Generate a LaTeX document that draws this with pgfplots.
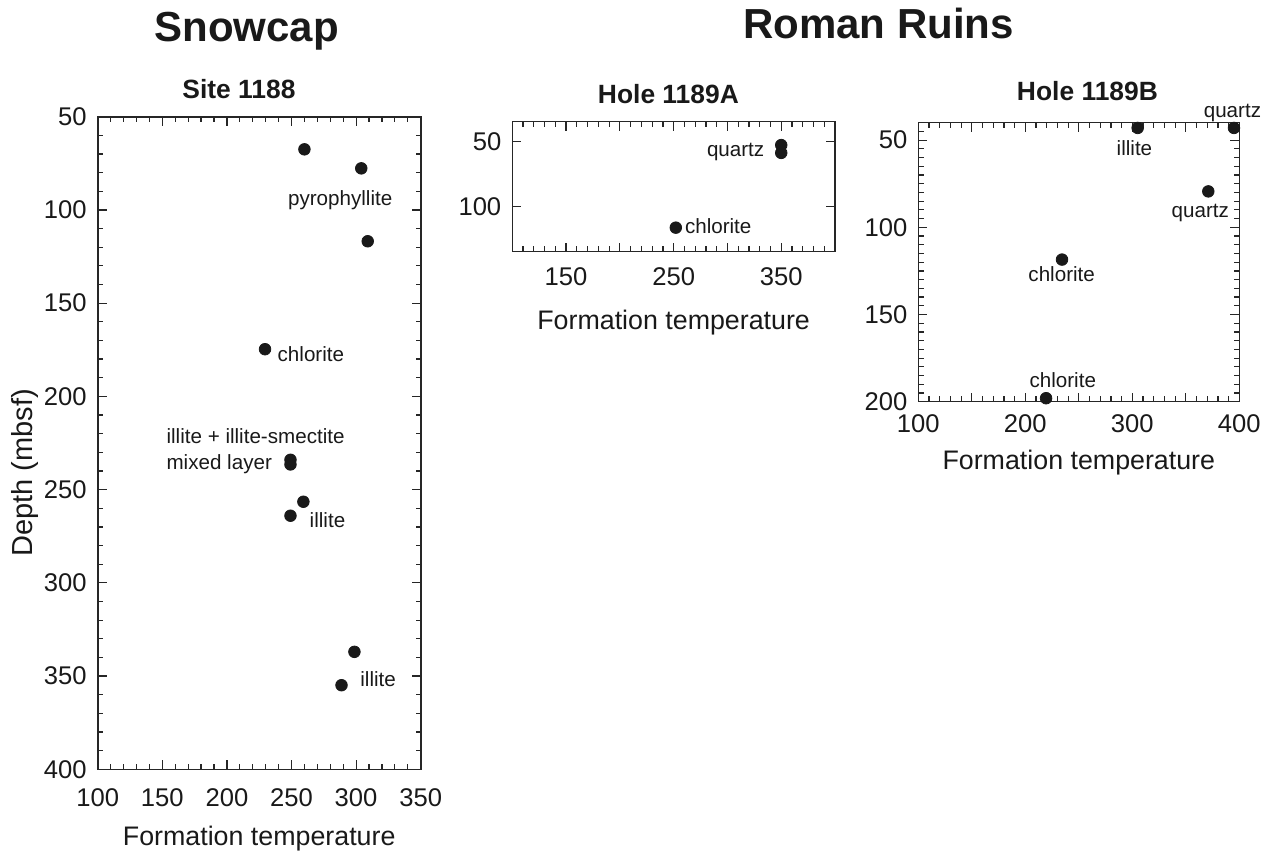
\documentclass[border=0pt]{standalone}
\usepackage{pgfplots}
\pgfplotsset{compat=1.18}
\usepackage{fontspec}
\setmainfont{Liberation Sans}

\pgfplotstableread{
x y
260 67.5
304 77.7
309 116.8
229.5 174.7
249.2 234
249.2 236.5
259.2 256.5
249.2 264
298.7 337
288.7 354.9
}\siteA

\pgfplotstableread{
x y
350 53
350 59
252 116.5
}\holeA

\pgfplotstableread{
x y
305 43
395 43
371 79.4
234.3 118.5
219.4 198
}\holeB

\tikzset{lbl/.style={font=\fontsize{10.3}{12}\selectfont, text=black!90, inner sep=0pt, text height=1.6ex, text depth=0.3ex}}

\pgfplotsset{
  myaxis/.style={
    scale only axis,
    y dir=reverse,
    axis line style={line width=0.8pt, black!85},
    tick align=inside,
    tick pos=both,
    major tick length=4.5pt,
    minor tick length=2.6pt,
    every tick/.style={black!85, line width=0.6pt},
    /pgf/number format/assume math mode=true,
    ticklabel style={font=\fontsize{12.8}{15}\selectfont, text=black!90},
    yticklabel style={xshift=-2pt},
    xlabel style={font=\fontsize{13.4}{15}\selectfont, text=black!90},
    ylabel style={font=\fontsize{14.5}{16}\selectfont, text=black!90},
    clip=false,
  },
  dots/.style={only marks, mark=*, mark size=2.9pt, mark options={fill=black!90, draw=black!90}},
}

\begin{document}
\begin{tikzpicture}
\path[use as bounding box] (0,0) rectangle (638.5pt,-427pt);

% titles
\node[anchor=base, font=\bfseries\fontsize{21}{24}\selectfont, text=black!90] at (123.4pt,-20.8pt) {Snowcap};
\node[anchor=base, font=\bfseries\fontsize{21}{24}\selectfont, text=black!90] at (439.2pt,-19.2pt) {Roman Ruins};
\node[anchor=base, font=\bfseries\fontsize{13.2}{15}\selectfont, text=black!90] at (119.5pt,-49.2pt) {Site 1188};
\node[anchor=base, font=\bfseries\fontsize{13.2}{15}\selectfont, text=black!90] at (334.2pt,-51.7pt) {Hole 1189A};
\node[anchor=base, font=\bfseries\fontsize{13.2}{15}\selectfont, text=black!90] at (543.7pt,-50.3pt) {Hole 1189B};

% Site 1188
\begin{axis}[myaxis,
  at={(48.85pt,-58.35pt)}, anchor=north west,
  width=161.5pt, height=326.3pt,
  xmin=100, xmax=350, ymin=50, ymax=400,
  xtick={100,150,...,350}, minor x tick num=4,
  ytick={50,100,...,400}, minor y tick num=4,
  xticklabel style={yshift=-6pt},
  xlabel={Formation temperature},
  xlabel style={yshift=-3pt},
  ylabel={Depth (mbsf)},
  ylabel style={at={(axis description cs:-0.224,0.454)}, anchor=center},
]
\addplot[dots] table[x=x,y=y] {\siteA};
\node[lbl, anchor=center] at (axis cs:287.7,94) {pyrophyllite};
\node[lbl, anchor=west] at (axis cs:239,177.7) {chlorite};
\node[lbl, anchor=west] at (axis cs:153,221.8) {illite + illite-smectite};
\node[lbl, anchor=west] at (axis cs:153,235.7) {mixed layer};
\node[lbl, anchor=west] at (axis cs:263.8,266.5) {illite};
\node[lbl, anchor=west] at (axis cs:303,352) {illite};
\end{axis}

% Hole 1189A
\begin{axis}[myaxis,
  at={(256.15pt,-60.85pt)}, anchor=north west,
  width=161.35pt, height=65pt,
  xmin=100, xmax=400, ymin=35, ymax=135,
  xtick={100,150,...,400}, xticklabels={,150,,250,,350,}, minor x tick num=4,
  ytick={50,100},
  xticklabel style={yshift=-4.5pt},
  xlabel={Formation temperature},
  xlabel style={yshift=-5pt},
]
\addplot[dots] table[x=x,y=y] {\holeA};
\node[lbl, anchor=east] at (axis cs:334.6,56.4) {quartz};
\node[lbl, anchor=west] at (axis cs:260.2,115.9) {chlorite};
\end{axis}

% Hole 1189B
\begin{axis}[myaxis,
  at={(459.15pt,-61.35pt)}, anchor=north west,
  width=160.5pt, height=139.5pt,
  xmin=100, xmax=400, ymin=40, ymax=200,
  xtick={100,150,...,400}, xticklabels={100,,200,,300,,400}, minor x tick num=4,
  ytick={50,100,150,200}, minor y tick num=9,
  extra y ticks={45}, extra y tick labels={},
  extra y tick style={major tick length=2.6pt},
  xticklabel style={yshift=-3pt},
  xlabel={Formation temperature},
  xlabel style={yshift=-1.5pt},
]
\addplot[dots] table[x=x,y=y] {\holeB};
\node[lbl, anchor=center] at (axis cs:302,54.8) {illite};
\node[lbl, anchor=center] at (axis cs:393.6,33) {quartz};
\node[lbl, anchor=center] at (axis cs:363.6,90.4) {quartz};
\node[lbl, anchor=center] at (axis cs:234,127) {chlorite};
\node[lbl, anchor=center] at (axis cs:235,188) {chlorite};
\end{axis}
\end{tikzpicture}
\end{document}
